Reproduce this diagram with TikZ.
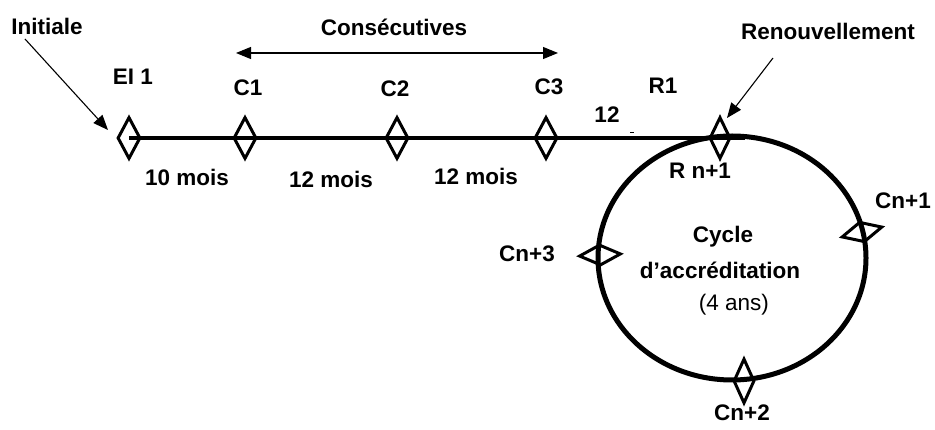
\documentclass[tikz,border=0pt]{standalone}
\usepackage{fontspec}
\setmainfont{Liberation Sans}
\usetikzlibrary{shapes.geometric,arrows.meta}
\begin{document}
\begin{tikzpicture}[x=1pt,y=-1pt,
  lbl/.style={font=\fontsize{22.5}{26}\selectfont\bfseries,inner sep=0pt},
  plain/.style={font=\fontsize{22.5}{26}\selectfont,inner sep=0pt},
  vdia/.style={draw,line width=3pt,diamond,inner sep=0pt,minimum width=23pt,minimum height=42pt},
  hdia/.style={draw,line width=3pt,diamond,inner sep=0pt,minimum width=42pt,minimum height=21pt},
  ptr/.style={line width=1.1pt,-{Triangle[length=15pt,width=12pt]}},
  dptr/.style={line width=1.1pt,{Triangle[length=15pt,width=12pt]}-{Triangle[length=15pt,width=12pt]}}]
\useasboundingbox (0,0) rectangle (935,430);
% ellipse
\node[draw,line width=5pt,ellipse,minimum width=268pt,minimum height=244pt,inner sep=0pt] (cycle) at (732,258) {};
% main line
\coordinate (lineend) at (745,138);
\node[vdia] (ei1) at (129,138) {};
\draw[line width=3.5pt] (ei1.center) -- (lineend);
\node[vdia] (c1) at (245,138) {};
\node[vdia] (c2) at (397,138) {};
\node[vdia] (c3) at (546,138) {};
\node[vdia,minimum width=21pt] (rn1) at (720,138) {};
\node[hdia,rotate=14] (cn1) at (862,232) {};
\node[hdia,rotate=3] (cn3) at (600,255) {};
\node[vdia,minimum width=21pt,minimum height=45pt] (cn2) at (744,381) {};
% labels
\node[lbl] (tinit) at (47,26) {Initiale};
\node[lbl] (tcons) at (394,27) {Consécutives};
\node[lbl] (tren) at (828,31) {Renouvellement};
\node[lbl] (tei1) at (133,77) {EI 1};
\node[lbl] (tc1) at (248,88) {C1};
\node[lbl] (tc2) at (395,89) {C2};
\node[lbl] (tc3) at (549,87) {C3};
\node[lbl] (tr1) at (663,86) {R1};
\node[lbl] (t12) at (607,115) {12};
\node[lbl] (trn1) at (700,171) {R n+1};
\node[lbl] (t10m) at (187,177) {10 mois};
\node[lbl] (t12m) at (331,179) {12 mois};
\node[lbl] (t12mb) at (476,176) {12 mois};
\node[lbl] (tcn1) at (903,201) {Cn+1};
\node[lbl] (tcn3) at (527,254) {Cn+3};
\node[lbl] (tcn2) at (742,413) {Cn+2};
\node[lbl] (tcyc) at (723,237) {Cycle};
\node[lbl] (tacc) at (720,270) {d’accréditation};
\node[plain] (tans) at (734,305) {(4 ans)};
% arrows
\coordinate (ia) at (25,39);
\coordinate (ib) at (108,130);
\draw[ptr] (ia) -- (ib);
\coordinate (ra) at (773,58);
\coordinate (rb) at (727,118);
\draw[ptr] (ra) -- (rb);
\coordinate (da) at (236,53);
\coordinate (db) at (558,53);
\draw[dptr] (da) -- (db);
\coordinate (ma) at (630,132);
\coordinate (mb) at (634,132);
\draw[line width=0.8pt] (ma) -- (mb);
\end{tikzpicture}
\end{document}
